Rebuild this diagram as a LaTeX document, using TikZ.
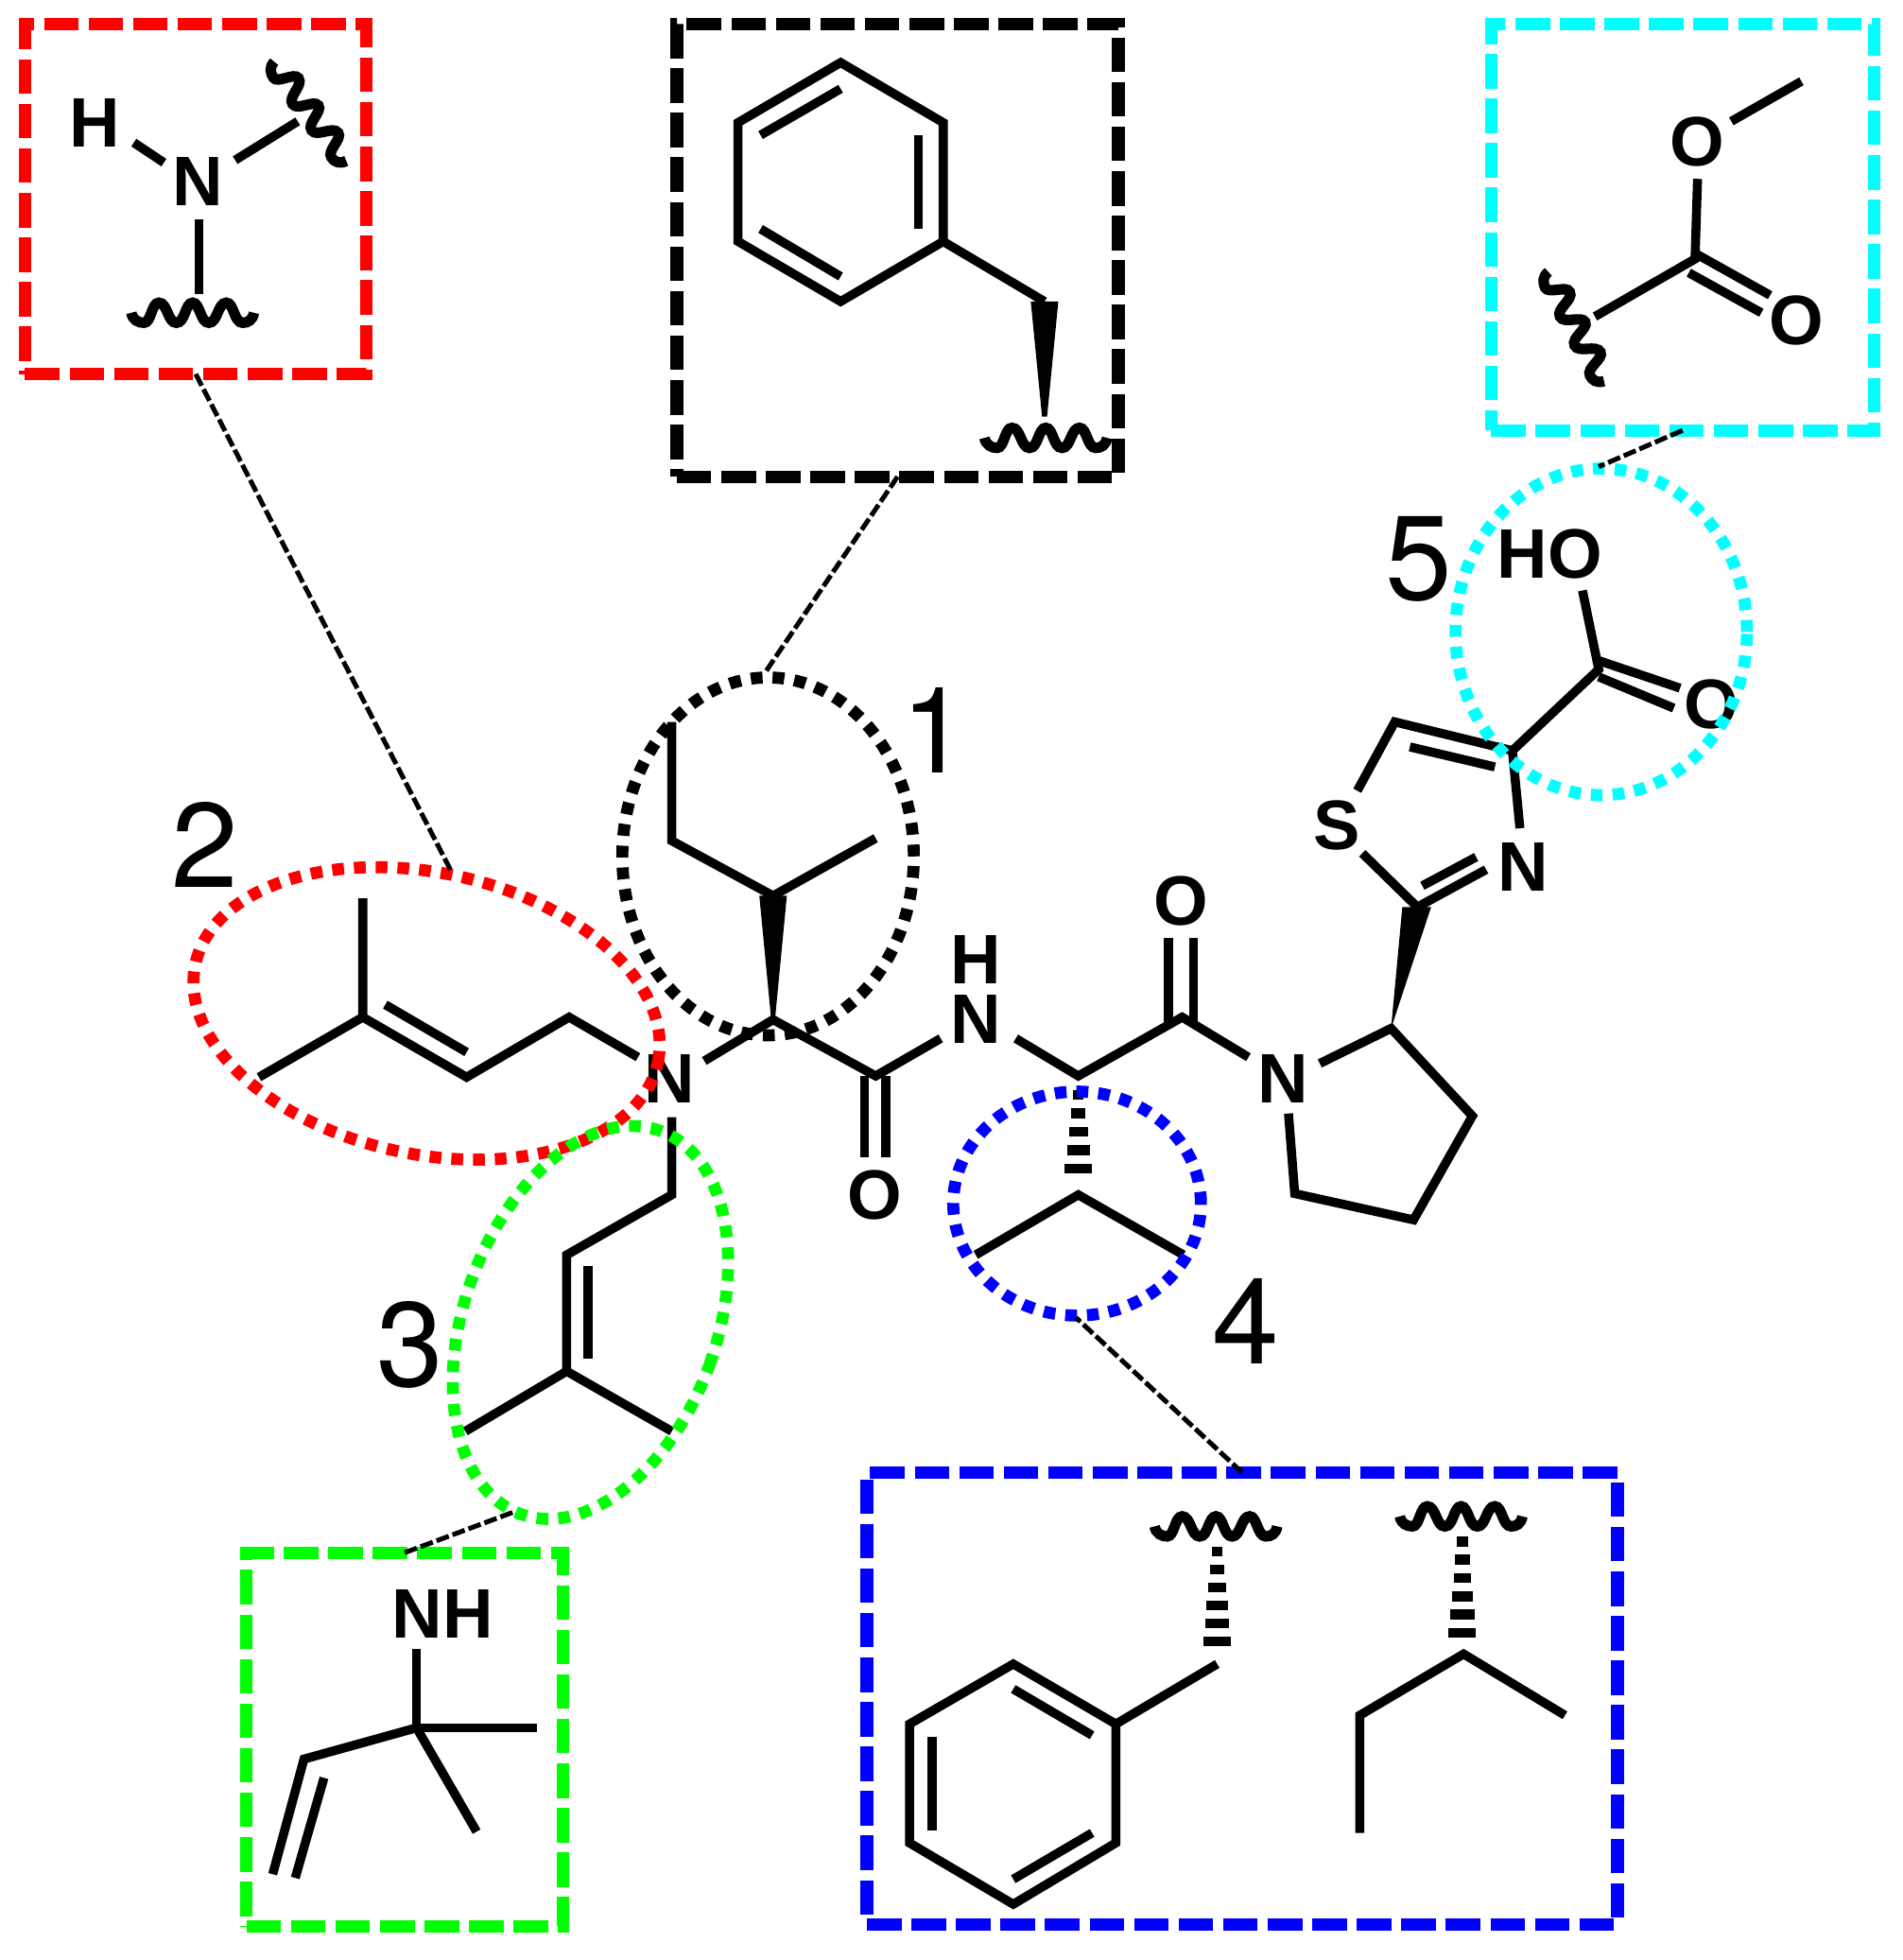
\documentclass[tikz,border=0pt]{standalone}
\usepackage{fontspec}
\setmainfont{Liberation Sans}
\newfontfamily\numfont{TeX Gyre Heros}
\usetikzlibrary{shapes.geometric}
\definecolor{rd}{RGB}{255,0,0}
\definecolor{gr}{RGB}{0,255,0}
\definecolor{bl}{RGB}{0,0,255}
\definecolor{cy}{RGB}{0,255,255}
\tikzset{
  x=0.5pt,y=-0.5pt,
  bond/.style={line width=3.6pt,line join=miter,line cap=butt},
  atom/.style={inner sep=0pt,outer sep=0pt,font=\fontsize{28}{30}\bfseries\selectfont},
  num/.style={inner sep=0pt,outer sep=0pt,font=\fontsize{48}{50}\numfont},
  dbox/.style={draw=#1,rectangle,line width=5pt,dash pattern=on 13.8pt off 4pt,inner sep=0pt,outer sep=0pt},
  dell/.style={draw=#1,ellipse,line width=4.8pt,dash pattern=on 4.7pt off 4pt,inner sep=0pt,outer sep=0pt},
  link/.style={draw=black,line width=1.9pt,dash pattern=on 5.2pt off 1.6pt},
}
\newcommand{\wavy}[3]{%
  \draw[line width=4.2pt,line cap=butt,shift={(#1,#2)},rotate=#3]
   (-49,0) .. controls (-48,6) and (-43,8) .. (-39,8)
   .. controls (-33,8) and (-33,-8) .. (-27,-8)
   .. controls (-20,-8) and (-20,8) .. (-13,8)
   .. controls (-6,8) and (-6,-8) .. (0,-8)
   .. controls (6,-8) and (6,8) .. (13,8)
   .. controls (20,8) and (20,-8) .. (27,-8)
   .. controls (33,-8) and (33,8) .. (40,8)
   .. controls (44,8) and (48,6) .. (49,0);}
% hash wedge: x, ytop, ybottom, count, top half-width, bottom half-width, stripe height
\newcommand{\hashw}[7]{%
  \foreach \i in {1,...,#4}{
    \pgfmathsetmacro{\tt}{(\i-1)/(#4-1)}
    \pgfmathsetmacro{\ya}{#2+\tt*(#3-#2-#7)}
    \pgfmathsetmacro{\hw}{#5+\tt*(#6-#5)}
    \fill (#1-\hw,\ya) rectangle (#1+\hw,\ya+#7);
  }}
\begin{document}
\begin{tikzpicture}
\useasboundingbox (0,0) rectangle (1520.5,1566.6);
\fill[white] (0,0) rectangle (1520.5,1566.6);

% main molecule
\draw[bond] (207,861) -- (290,813) -- (290,718);
\draw[bond] (290,813) -- (373,861) -- (455,813) -- (510,845);
\draw[bond] (308,803) -- (373,841);
\draw[bond] (537,893) -- (537,955) -- (453,1003) -- (453,1096) -- (372,1144);
\draw[bond] (453,1096) -- (537,1144);
\draw[bond] (470,1012) -- (470,1086);
\draw[bond] (563,848) -- (618,815) -- (700,860) -- (752,830);
\fill (616.5,815) -- (607,716) -- (629,716) -- (619.5,815) -- cycle;
\draw[bond] (537,577) -- (537,672) -- (618,716) -- (700,670);
\draw[bond] (691,860) -- (691,925);
\draw[bond] (708,860) -- (708,925);
\draw[bond] (812,830) -- (862,860) -- (945,813) -- (998,845);
\draw[bond] (934,820) -- (934,750);
\draw[bond] (954,820) -- (954,750);
\hashw{862}{871}{938}{5}{4.2}{10.8}{8}
\draw[bond] (780,1003) -- (862,955) -- (946,1003);
\draw[bond] (1055,850) -- (1112,822) -- (1177,892) -- (1130,975) -- (1035,954) -- (1030,890);
\fill (1112,822) -- (1121,725) -- (1144,725) -- cycle;
\draw[bond] (1089,682) -- (1133,725) -- (1188,695);
\draw[bond] (1137,708) -- (1180,685);
\draw[bond] (1215,662) -- (1209,600) -- (1115,577) -- (1085,632);
\draw[bond] (1195,613) -- (1127,597);
\draw[bond] (1209,600) -- (1278,535) -- (1265,472);
\draw[bond] (1275,527) -- (1343,550);
\draw[bond] (1278,541) -- (1338,566);

\node[atom] (nmain) at (535,862) {N};
\node[atom] (omid) at (699,955) {O};
\node[atom] (nh) at (780,815) {N};
\node[atom] (hh) at (780,767) {H};
\node[atom] (otop) at (944,720) {O};
\node[atom] (npro) at (1026,862) {N};
\node[atom] (sthz) at (1069,660) {S};
\node[atom] (nthz) at (1218,693) {N};
\node[atom] (oho) at (1239,443) {HO};
\node[atom] (oacid) at (1368,563) {O};

% red box content
\draw[bond] (107,114) -- (131,130);
\draw[bond] (188,128) -- (238,97);
\draw[bond] (159,175) -- (159,235);
\node[atom] (rh) at (76,98) {H};
\node[atom] (rn) at (158,145) {N};
\wavy{154}{250}{0}
\wavy{248}{89}{-54}

% black box content
\draw[bond] (672,50) -- (754,98) -- (754,193) -- (672,241) -- (590,193) -- (590,98) -- cycle;
\draw[bond] (608,108) -- (672,71);
\draw[bond] (734,108) -- (734,183);
\draw[bond] (608,183) -- (672,221);
\draw[bond] (754,193) -- (835,241);
\fill (824,241) -- (846,241) -- (837,333) -- (833,333) -- cycle;
\wavy{836}{350}{0}

% cyan box content
\draw[bond] (1440,65) -- (1384,97);
\draw[bond] (1357,143) -- (1355,207) -- (1275,253);
\draw[bond] (1356,203) -- (1415,236);
\draw[bond] (1350,218) -- (1408,250);
\node[atom] (co1) at (1357,113) {O};
\node[atom] (co2) at (1436,256) {O};
\wavy{1260}{261}{-63}

% green box content
\draw[bond] (333,1318) -- (333,1381) -- (429,1381);
\draw[bond] (333,1381) -- (381,1464);
\draw[bond] (333,1381) -- (243,1406) -- (218,1498);
\draw[bond] (259,1421) -- (236,1501);
\node[atom] (gnh) at (354,1290) {NH};

% blue box content
\draw[bond] (810,1330) -- (892,1378) -- (892,1473) -- (810,1522) -- (727,1473) -- (727,1378) -- cycle;
\draw[bond] (810,1350) -- (873,1387);
\draw[bond] (745,1388) -- (745,1463);
\draw[bond] (810,1502) -- (873,1465);
\draw[bond] (892,1378) -- (973,1330);
\wavy{972}{1220}{0}
\hashw{973}{1236}{1316}{6}{4.5}{11}{8}
\wavy{1168}{1212}{0}
\hashw{1169}{1228}{1309}{6}{4.5}{11}{8}
\draw[bond] (1087,1465) -- (1087,1371) -- (1170,1322) -- (1251,1371);

% dotted ellipses
\node[dell=black,minimum width=116.5pt,minimum height=143pt] (ell1) at (614,684.5) {};
\node[dell=rd,minimum width=189pt,minimum height=112.5pt,rotate=-12] (ell2) at (341,810) {};
\node[dell=gr,minimum width=101pt,minimum height=163pt,rotate=-20] (ell3) at (472,1057) {};
\node[dell=bl,minimum width=99pt,minimum height=89.5pt] (ell4) at (861,962) {};
\node[dell=cy,minimum width=116.5pt,minimum height=130.5pt] (ell5) at (1280,505) {};

% dashed boxes
\node[dbox=rd,minimum width=136.5pt,minimum height=140pt] (box2) at (156.5,159) {};
\node[dbox=black,minimum width=176.5pt,minimum height=181pt] (box1) at (717.5,200) {};
\node[dbox=cy,minimum width=153pt,minimum height=162.5pt] (box5) at (1345,181.5) {};
\node[dbox=gr,minimum width=126.5pt,minimum height=149.5pt] (box3) at (323.5,1390.5) {};
\node[dbox=bl,minimum width=300pt,minimum height=180.5pt] (box4) at (993,1357.5) {};

% connectors
\coordinate (tip1) at (612,537);
\coordinate (tip2) at (360,695);
\coordinate (tip3) at (412,1208);
\coordinate (tip4) at (860,1053);
\coordinate (tip5) at (1278,373);
\draw[link] (box1.south) -- (tip1);
\draw[link] (box2.south) -- (tip2);
\draw[link] (box3.north) -- (tip3);
\draw[link] (box4.north) -- (tip4);
\draw[link] (box5.south) -- (tip5);

% numbers
\node[num] (n1) at (747,584) {1};
\node[num] (n2) at (164,675) {2};
\node[num] (n3) at (328,1075) {3};
\node[num] (n4) at (996,1056) {4};
\node[num] (n5) at (1134,447) {5};
\end{tikzpicture}
\end{document}
